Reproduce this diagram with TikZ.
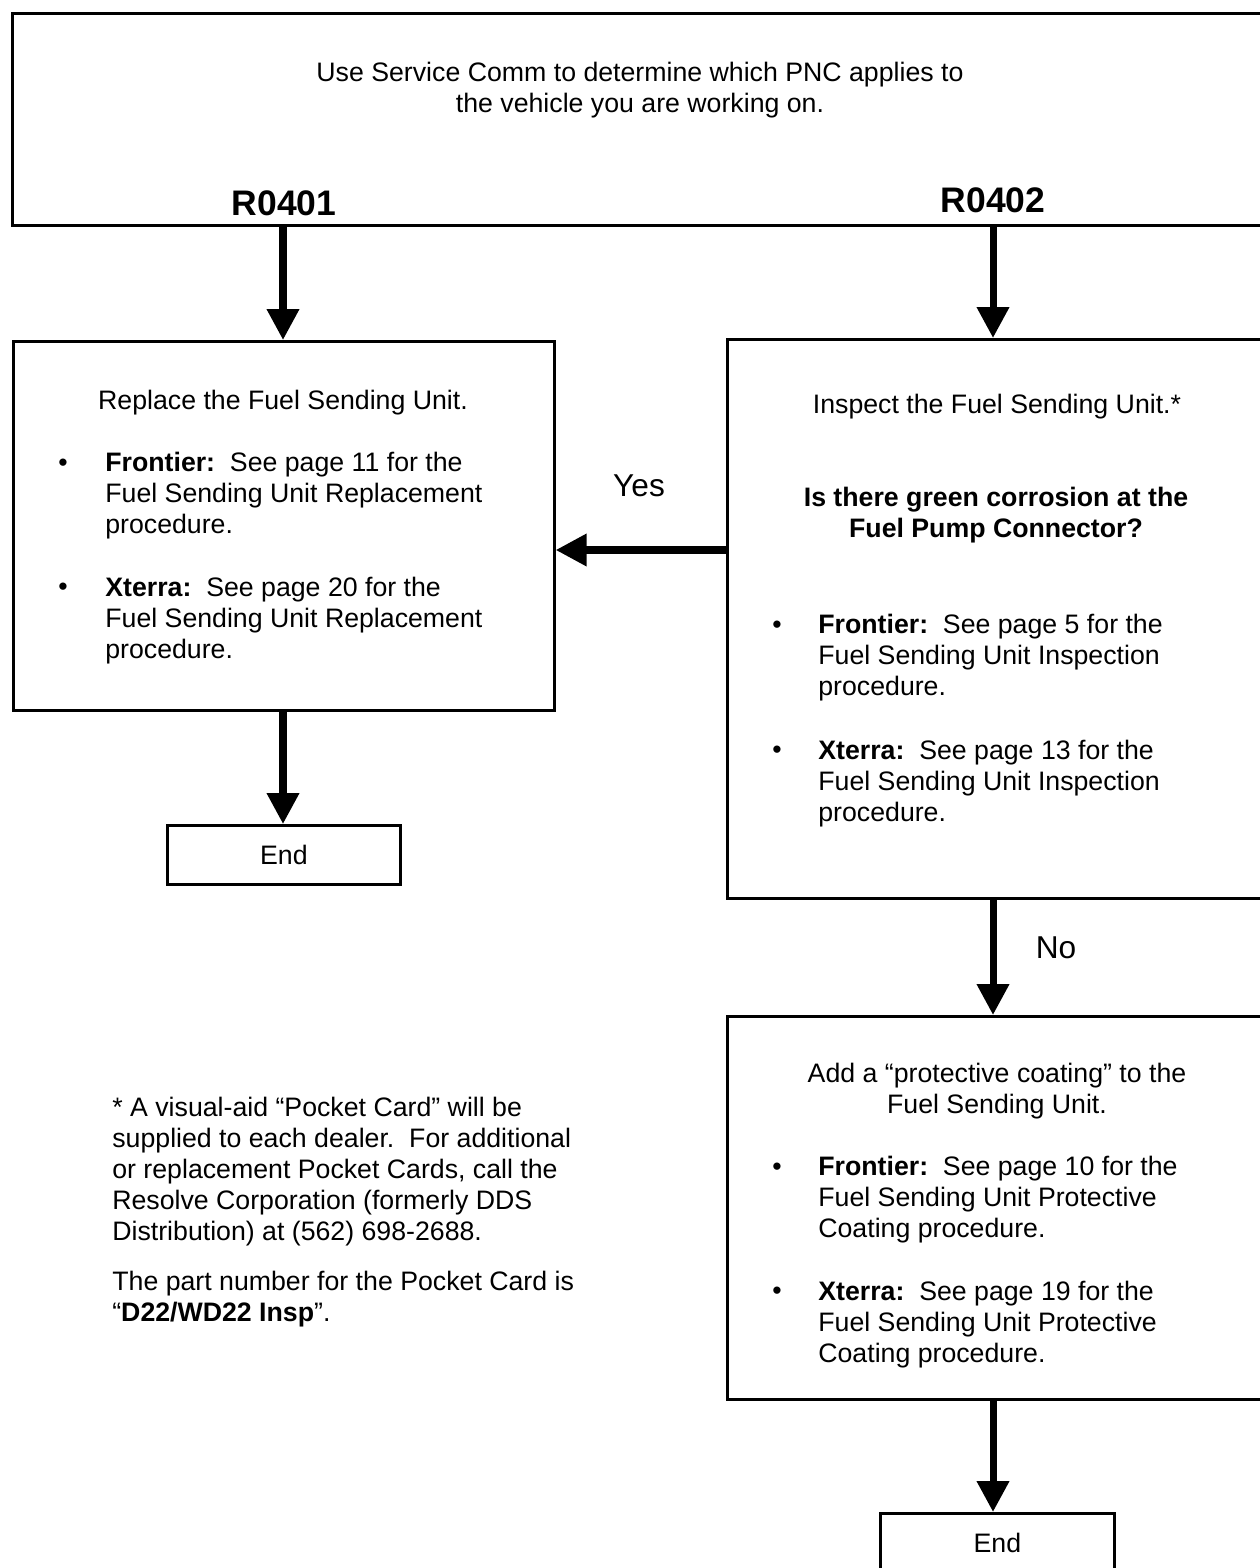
\documentclass[tikz,border=0pt]{standalone}
\usepackage{fontspec}
\setmainfont{Liberation Sans}
\usetikzlibrary{arrows.meta,positioning}

\tikzset{
  box/.style={draw, line width=1.6pt, inner sep=0pt, anchor=north west},
  flow/.style={line width=4pt, -{Triangle[length=0.62cm,width=0.62cm]}},
  txt/.style={inner sep=0pt, font=\fontsize{15.2}{17.65}\selectfont, align=left, anchor=north west},
  ctr/.style={txt, align=center, anchor=north},
  lbl/.style={inner sep=0pt, font=\fontsize{18}{22}\selectfont},
  pnc/.style={inner sep=0pt, font=\bfseries\fontsize{20.2}{24}\selectfont, anchor=base},
  dot/.style={inner sep=0pt, font=\fontsize{15.2}{17.65}\selectfont}
}

\begin{document}
\begin{tikzpicture}[x=0.02cm, y=-0.02cm]
    \useasboundingbox (0,0) rectangle (1259,1568);
    \coordinate (colL) at (283,0);
    \coordinate (colR) at (993,0);
    \coordinate (rowY) at (0,550);

    % boxes
    \node[box, minimum width=25.22cm, minimum height=4.24cm] (pnc) at (11,12) {};
    \node[box, minimum width=10.82cm, minimum height=7.38cm] (replace) at (12,340) {};
    \node[box, minimum width=10.92cm, minimum height=11.18cm] (inspect) at (726,338) {};
    \node[box, minimum width=10.92cm, minimum height=7.66cm] (coat) at (726,1015) {};
    \node[box, minimum width=4.66cm, minimum height=1.18cm, font=\fontsize{15.2}{17.65}\selectfont] (endL) at (166,824) {End};
    \node[box, minimum width=4.68cm, minimum height=1.18cm, font=\fontsize{15.2}{17.65}\selectfont] (endR) at (879,1512) {End};

    % top
    \node[ctr] (use) at (640,62) {Use Service Comm to determine which PNC applies to\\the vehicle you are working on.};
    \node[pnc] (r1) at (284,215) {R0401};
    \node[pnc] (r2) at (993,212) {R0402};

    % replace
    \node[ctr] (repT) at (283,390) {Replace the Fuel Sending Unit.};
    \node[dot] (repD1) at (63,465) {\textbullet};
    \node[txt] (repF) at (105,452) {{\bfseries Frontier:}\ \ See page 11 for the\\Fuel Sending Unit Replacement\\procedure.};
    \node[dot] (repD2) at (63,589) {\textbullet};
    \node[txt] (repX) at (105,577) {{\bfseries Xterra:}\ \ See page 20 for the\\Fuel Sending Unit Replacement\\procedure.};

    % inspect
    \node[ctr] (insT) at (997,394) {Inspect the Fuel Sending Unit.*};
    \node[ctr, font=\bfseries\fontsize{15.2}{17.65}\selectfont] (insQ) at (996,487) {Is there green corrosion at the\\Fuel Pump Connector?};
    \node[dot] (insD1) at (777,627) {\textbullet};
    \node[txt] (insF) at (818,614) {{\bfseries Frontier:}\ \ See page 5 for the\\Fuel Sending Unit Inspection\\procedure.};
    \node[dot] (insD2) at (777,752) {\textbullet};
    \node[txt] (insX) at (818,740) {{\bfseries Xterra:}\ \ See page 13 for the\\Fuel Sending Unit Inspection\\procedure.};

    % coating
    \node[ctr] (coaT) at (997,1063) {Add a ``protective coating'' to the\\Fuel Sending Unit.};
    \node[dot] (coaD1) at (777,1169) {\textbullet};
    \node[txt] (coaF) at (818,1156) {{\bfseries Frontier:}\ \ See page 10 for the\\Fuel Sending Unit Protective\\Coating procedure.};
    \node[dot] (coaD2) at (777,1293) {\textbullet};
    \node[txt] (coaX) at (818,1281) {{\bfseries Xterra:}\ \ See page 19 for the\\Fuel Sending Unit Protective\\Coating procedure.};

    % footnote
    \node[txt] (note) at (112,1097) {* A visual-aid ``Pocket Card'' will be\\supplied to each dealer.\ \ For additional\\or replacement Pocket Cards, call the\\Resolve Corporation (formerly DDS\\Distribution) at (562) 698-2688.};
    \node[txt] (part) at (112,1271) {The part number for the Pocket Card is\\``{\bfseries D22/WD22 Insp}''.};

    % arrows
    \draw[flow] (pnc.south -| colL) -- (replace.north -| colL);
    \draw[flow] (pnc.south -| colR) -- (inspect.north -| colR);
    \draw[flow] (inspect.west |- rowY) -- (replace.east |- rowY);
    \draw[flow] (replace.south -| colL) -- (endL.north -| colL);
    \draw[flow] (inspect.south -| colR) -- (coat.north -| colR);
    \draw[flow] (coat.south -| colR) -- (endR.north -| colR);

    \node[lbl] (yes) at (639,486) {Yes};
    \node[lbl] (no) at (1056,948) {No};
\end{tikzpicture}
\end{document}
